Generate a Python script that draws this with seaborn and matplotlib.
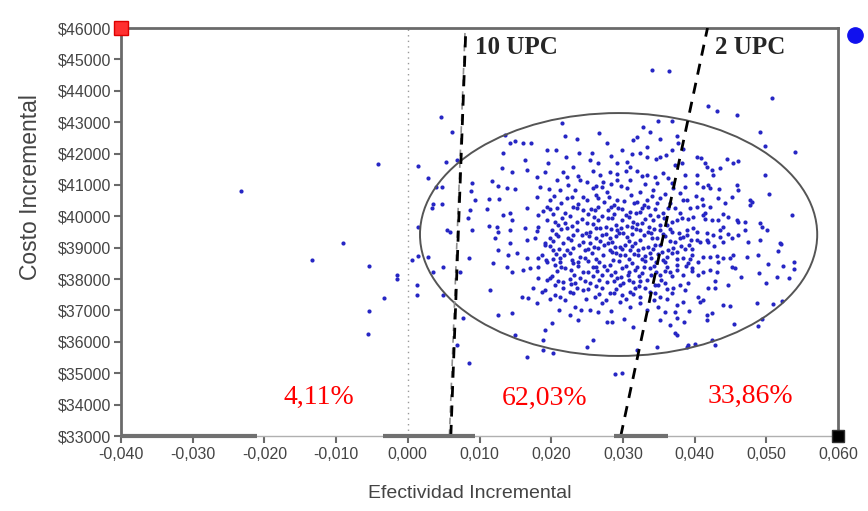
import numpy as np
import pandas as pd
import matplotlib
matplotlib.use("Agg")
import matplotlib.pyplot as plt
from matplotlib.patches import Ellipse
from matplotlib.ticker import FuncFormatter
import seaborn as sns

# ---------------- data ----------------
# simulated points, Efectividad incremental (x) and Costo incremental (y)
left_pts = [
    (-0.0233, 40810), (-0.0134, 38610), (-0.0090, 39160), (-0.0041, 41670),
    (-0.0054, 38420), (-0.0033, 37400), (-0.0054, 36990), (-0.0055, 36250),
    (-0.0015, 38130), (-0.0015, 38000), (0.0006, 38610), (0.0014, 38740),
    (0.0013, 37810), (0.0013, 37500), (0.0035, 38230), (0.0049, 38390),
    (0.0049, 37500), (0.0077, 36760), (0.0069, 35900), (0.0085, 35330),
    (0.0046, 43165), (0.0062, 42690), (0.0014, 41605), (0.0053, 41730),
    (0.0069, 41800), (0.0028, 41220), (0.0039, 40940), (0.0048, 40940),
    (0.0035, 40400), (0.0048, 40400), (0.0034, 40270), (0.0014, 39660),
    (0.0055, 39570), (0.0059, 39500), (0.0028, 38710), (0.0073, 38230),
    (0.0085, 38670), (0.0090, 39570), (0.0084, 39950), (0.0087, 40200),
    (0.0090, 41060), (0.0088, 40810), (0.0094, 40520),
]
right_pts = [
    (0.0341, 44660), (0.0364, 44630), (0.0419, 43520), (0.0431, 43360),
    (0.0459, 43230), (0.0508, 43770), (0.0491, 42690), (0.0498, 42240),
    (0.0540, 42050), (0.0498, 41320), (0.0504, 40710), (0.0536, 40040),
    (0.0521, 39120), (0.0517, 38900), (0.0538, 38550), (0.0539, 38320),
    (0.0523, 38420), (0.0532, 38040), (0.0515, 38070), (0.0502, 38480),
    (0.0490, 38200), (0.0500, 37880), (0.0487, 37240), (0.0509, 37210),
    (0.0522, 37300), (0.0489, 36510), (0.0455, 36570), (0.0489, 38770),
    (0.0473, 38710), (0.0465, 38070), (0.0457, 38350), (0.0447, 37810),
    (0.0440, 37180), (0.0449, 37150), (0.0424, 36920), (0.0417, 36700),
    (0.0424, 36060), (0.0429, 35900), (0.0391, 35900), (0.0401, 35940),
    (0.0385, 36640), (0.0373, 36290), (0.0412, 37340), (0.0419, 37720),
    (0.0429, 37720), (0.0494, 36730), (0.0519, 39150), (0.0491, 39250),
    (0.0494, 39660), (0.0501, 39570), (0.0477, 40520), (0.0477, 40360),
    (0.0470, 39820), (0.0459, 39890), (0.0470, 39570),
    (0.0445, 41830), (0.0454, 41700), (0.0461, 41760), (0.0459, 41000),
    (0.0461, 40840), (0.0452, 40620), (0.0443, 40430), (0.0480, 40460),
    (0.0491, 39790), (0.0461, 39820), (0.0440, 40080),
]
top_pts = [
    (0.0215, 42970), (0.0267, 42650), (0.0328, 42850), (0.0338, 42690),
    (0.0349, 43040), (0.0369, 43040), (0.0236, 42460), (0.0219, 42560),
    (0.0278, 42340), (0.0314, 42430), (0.0320, 42530), (0.0334, 42210),
    (0.0352, 42460), (0.0136, 42590), (0.0143, 42340), (0.0150, 42400),
    (0.0161, 42340), (0.0172, 42340), (0.0194, 42110), (0.0133, 42010),
    (0.0164, 41800), (0.0166, 41480), (0.0132, 41540), (0.0145, 41410),
    (0.0118, 41130), (0.0126, 40970), (0.0138, 40900), (0.0150, 40870),
    (0.0113, 40550), (0.0127, 40550), (0.0111, 40230), (0.0133, 40040),
    (0.0143, 40110), (0.0166, 40270), (0.0180, 40620), (0.0182, 40040),
    (0.0194, 40300), (0.0184, 40940), (0.0180, 41250), (0.0191, 41410),
    (0.0404, 41890), (0.0409, 41860), (0.0415, 41700), (0.0424, 41480),
    (0.0436, 41540), (0.0426, 41320), (0.0419, 41000), (0.0422, 40900),
    (0.0412, 40940), (0.0384, 42150), (0.0383, 41700), (0.0376, 42560),
    (0.0377, 42340), (0.0404, 41320), (0.0387, 40940), (0.0404, 40300),
    (0.0412, 40360), (0.0390, 40520), (0.0422, 40300), (0.0412, 40040),
    (0.0207, 42110), (0.0239, 42020), (0.0257, 42020), (0.0299, 42110),
    (0.0313, 41990), (0.0324, 42020), (0.0334, 41890), (0.0369, 42110),
    (0.0346, 41830), (0.0360, 41960), (0.0373, 41640), (0.0196, 41700),
    (0.0230, 41570), (0.0254, 41800), (0.0265, 41700), (0.0292, 41700),
    (0.0306, 41730), (0.0310, 41570), (0.0304, 41450), (0.0320, 41450),
    (0.0258, 41450), (0.0282, 41410), (0.0292, 41350), (0.0217, 41410),
    (0.0222, 41250), (0.0208, 41160), (0.0240, 41160), (0.0250, 41100),
    (0.0272, 41100), (0.0292, 41160), (0.0310, 41160), (0.0334, 41320),
    (0.0345, 41250), (0.0356, 41380), (0.0363, 41220), (0.0348, 41060),
    (0.0369, 41060), (0.0370, 40900), (0.0197, 40880), (0.0212, 40840),
    (0.0233, 40840), (0.0258, 40900), (0.0271, 40940), (0.0278, 40780),
    (0.0306, 40900), (0.0324, 40780), (0.0342, 40840), (0.0198, 40520),
    (0.0222, 40590), (0.0229, 40620), (0.0250, 40520), (0.0265, 40590),
    (0.0292, 40520), (0.0302, 40480), (0.0320, 40460), (0.0334, 40520),
    (0.0352, 40590), (0.0366, 40430), (0.0189, 40180), (0.0208, 40270),
    (0.0219, 40110), (0.0230, 40300), (0.0244, 40200), (0.0261, 40200),
    (0.0265, 40300), (0.0279, 40200), (0.0293, 40270), (0.0310, 40140),
    (0.0324, 40140), (0.0335, 40300), (0.0338, 40040), (0.0356, 40110),
    (0.0363, 40270), (0.0380, 40750), (0.0384, 40520), (0.0411, 40560),
    (0.0433, 40590), (0.0417, 41570), (0.0404, 41060), (0.0380, 40110),
    (0.0394, 40270), (0.0415, 40110),
]
mid_pts = [
    (0.0194, 39890), (0.0205, 39820), (0.0219, 39790), (0.0236, 39820),
    (0.0250, 39790), (0.0265, 39890), (0.0285, 39950), (0.0299, 39890),
    (0.0314, 39820), (0.0327, 39790), (0.0342, 39890), (0.0352, 39730),
    (0.0369, 39820), (0.0145, 39890), (0.0182, 39660), (0.0125, 39660),
    (0.0113, 39700), (0.0126, 39500), (0.0143, 39570), (0.0164, 39630),
    (0.0180, 39540), (0.0122, 39310), (0.0143, 39150), (0.0166, 39250),
    (0.0178, 39310), (0.0191, 39150), (0.0126, 38930), (0.0140, 38770),
    (0.0152, 38830), (0.0166, 38670), (0.0182, 38670), (0.0187, 38770),
    (0.0201, 39570), (0.0222, 39630), (0.0243, 39410), (0.0268, 39630),
    (0.0271, 39410), (0.0282, 39310), (0.0292, 39570), (0.0300, 39470),
    (0.0313, 39660), (0.0324, 39570), (0.0335, 39500), (0.0341, 39310),
    (0.0352, 39570), (0.0369, 39500), (0.0373, 39180), (0.0191, 39090),
    (0.0203, 38930), (0.0217, 39150), (0.0231, 38990), (0.0247, 38930),
    (0.0254, 39150), (0.0265, 38990), (0.0279, 39150), (0.0285, 38870),
    (0.0289, 39020), (0.0296, 38770), (0.0303, 39090), (0.0310, 38930),
    (0.0317, 39150), (0.0321, 38770), (0.0328, 38990), (0.0338, 38830),
    (0.0345, 39090), (0.0355, 38870), (0.0362, 38710), (0.0370, 38990),
    (0.0240, 38710), (0.0212, 38670), (0.0193, 38600), (0.0226, 38830),
    (0.0198, 39310), (0.0231, 39410), (0.0254, 39500), (0.0380, 39310),
    (0.0390, 39410), (0.0404, 39500), (0.0408, 39180), (0.0417, 39250),
    (0.0426, 39410), (0.0436, 39570), (0.0440, 39180), (0.0452, 39310),
    (0.0461, 39410), (0.0475, 39180), (0.0376, 38870), (0.0384, 38670),
    (0.0397, 38770), (0.0422, 38710), (0.0440, 38670), (0.0454, 38770),
    (0.0436, 39340), (0.0417, 39470), (0.0404, 39250), (0.0390, 39570),
    (0.0376, 39890), (0.0398, 39980), (0.0424, 39890), (0.0440, 39660),
    (0.0447, 39980),
]
low_pts = [
    (0.0194, 38550), (0.0205, 38450), (0.0219, 38360), (0.0230, 38520),
    (0.0244, 38230), (0.0258, 38390), (0.0271, 38130), (0.0282, 38450),
    (0.0289, 38230), (0.0299, 38360), (0.0307, 38130), (0.0320, 38390),
    (0.0327, 38200), (0.0338, 38360), (0.0352, 38130), (0.0366, 38230),
    (0.0376, 38450), (0.0198, 38040), (0.0217, 37910), (0.0233, 37880),
    (0.0254, 37880), (0.0278, 37910), (0.0300, 37880), (0.0314, 37910),
    (0.0334, 37970), (0.0345, 37810), (0.0359, 37880), (0.0240, 38040),
    (0.0292, 38040), (0.0191, 37650), (0.0205, 37500), (0.0226, 37590),
    (0.0244, 37650), (0.0261, 37430), (0.0282, 37560), (0.0299, 37500),
    (0.0310, 37590), (0.0324, 37430), (0.0338, 37590), (0.0352, 37430),
    (0.0369, 37560), (0.0376, 37180), (0.0250, 35840), (0.0289, 34990),
    (0.0299, 35020), (0.0348, 35840), (0.0320, 35740), (0.0203, 35650),
    (0.0189, 35740), (0.0258, 36060), (0.0226, 36860), (0.0201, 36600),
    (0.0212, 37430), (0.0254, 37020), (0.0265, 36950), (0.0278, 36640),
    (0.0285, 36620), (0.0314, 36480), (0.0310, 37110), (0.0296, 37270),
    (0.0324, 37240), (0.0349, 37110), (0.0359, 36950), (0.0366, 36540),
    (0.0376, 36220), (0.0233, 37110), (0.0271, 37240), (0.0390, 35840),
    (0.0166, 35520), (0.0191, 36380), (0.0189, 36060), (0.0150, 36220),
    (0.0145, 36920), (0.0126, 36860), (0.0115, 37650), (0.0119, 38520),
    (0.0138, 38390), (0.0161, 38290), (0.0171, 38360), (0.0182, 38390),
    (0.0145, 38230), (0.0182, 38040), (0.0194, 37970), (0.0175, 37720),
    (0.0187, 37590), (0.0159, 37430), (0.0168, 37400), (0.0180, 37240),
    (0.0380, 37810), (0.0387, 37650), (0.0405, 37430), (0.0408, 37270),
    (0.0384, 37270), (0.0373, 36950), (0.0376, 36760), (0.0417, 36860),
    (0.0376, 38290), (0.0384, 38130), (0.0391, 37880), (0.0405, 38130),
    (0.0412, 38230), (0.0422, 38290), (0.0431, 38230), (0.0370, 37720),
    (0.0405, 38550), (0.0433, 38550),
]
core_pts = [
    (0.0214, 40420), (0.0238, 40380), (0.0273, 40440), (0.0287, 40360),
    (0.0316, 40410), (0.0329, 40350), (0.0347, 40430),
    (0.0203, 40060), (0.0226, 40020), (0.0252, 40080), (0.0271, 40010),
    (0.0288, 40070), (0.0304, 40030), (0.0318, 40090), (0.0349, 40000),
    (0.0210, 39710), (0.0229, 39680), (0.0258, 39740), (0.0276, 39660),
    (0.0291, 39720), (0.0306, 39690), (0.0320, 39750), (0.0337, 39670),
    (0.0361, 39710),
    (0.0209, 39360), (0.0224, 39320), (0.0253, 39380), (0.0262, 39300),
    (0.0291, 39360), (0.0306, 39330), (0.0329, 39390), (0.0347, 39310),
    (0.0359, 39370), (0.0384, 39340),
    (0.0198, 39050), (0.0239, 39080), (0.0259, 39020), (0.0274, 39070),
    (0.0296, 39030), (0.0313, 39060), (0.0335, 39010), (0.0352, 39070),
    (0.0381, 39040), (0.0392, 39090),
    (0.0207, 38800), (0.0218, 38760), (0.0257, 38820), (0.0272, 38780),
    (0.0291, 38830), (0.0303, 38770), (0.0316, 38810), (0.0331, 38750),
    (0.0349, 38800), (0.0368, 38840),
    (0.0212, 38560), (0.0237, 38530), (0.0251, 38590), (0.0267, 38540),
    (0.0294, 38570), (0.0312, 38520), (0.0331, 38580), (0.0346, 38540),
    (0.0359, 38560), (0.0391, 38520),
    (0.0208, 38250), (0.0227, 38280), (0.0252, 38220), (0.0264, 38260),
    (0.0278, 38300), (0.0309, 38240), (0.0317, 38290), (0.0346, 38230),
    (0.0359, 38270), (0.0397, 38250),
    (0.0209, 37950), (0.0226, 37990), (0.0247, 37930), (0.0266, 37970),
    (0.0287, 37940), (0.0308, 37980), (0.0324, 37930), (0.0353, 37960),
    (0.0216, 37700), (0.0236, 37730), (0.0252, 37680), (0.0271, 37720),
    (0.0291, 37690), (0.0317, 37730), (0.0331, 37700), (0.0362, 37680),
    (0.0199, 37350), (0.0219, 37320), (0.0248, 37370), (0.0276, 37330),
    (0.0305, 37360), (0.0343, 37320), (0.0361, 37350),
    (0.0223, 41010), (0.0262, 40980), (0.0284, 41030), (0.0297, 40970),
    (0.0331, 41020),
    (0.0412, 38700), (0.0431, 38730), (0.0449, 38680),
    (0.0391, 39900), (0.0414, 39930), (0.0433, 39880),
]
dense_pts = [
    (0.0204, 40660), (0.0244, 40630), (0.0262, 40690), (0.0281, 40620),
    (0.0311, 40670), (0.0341, 40640), (0.0359, 40700),
    (0.0199, 40240), (0.0236, 40270), (0.0255, 40230), (0.0284, 40290),
    (0.0299, 40220), (0.0327, 40260), (0.0345, 40240), (0.0372, 40280),
    (0.0215, 39960), (0.0243, 39930), (0.0259, 39980), (0.0279, 39940),
    (0.0309, 39970), (0.0331, 39920), (0.0357, 39960), (0.0383, 39940),
    (0.0214, 39600), (0.0236, 39570), (0.0262, 39620), (0.0284, 39590),
    (0.0297, 39630), (0.0318, 39580), (0.0343, 39610), (0.0365, 39590),
    (0.0398, 39620),
    (0.0207, 39450), (0.0249, 39470), (0.0277, 39440), (0.0295, 39480),
    (0.0312, 39430), (0.0339, 39460), (0.0356, 39440), (0.0378, 39470),
    (0.0203, 39200), (0.0228, 39230), (0.0245, 39190), (0.0268, 39220),
    (0.0285, 39180), (0.0309, 39210), (0.0324, 39240), (0.0366, 39200),
    (0.0395, 39230), (0.0419, 39190),
    (0.0211, 38950), (0.0222, 38920), (0.0252, 38960), (0.0282, 38930),
    (0.0299, 38970), (0.0321, 38940), (0.0342, 38960), (0.0363, 38920),
    (0.0387, 38950),
    (0.0202, 38650), (0.0229, 38620), (0.0247, 38660), (0.0263, 38640),
    (0.0286, 38610), (0.0308, 38650), (0.0326, 38630), (0.0339, 38670),
    (0.0356, 38620), (0.0376, 38650), (0.0394, 38630),
    (0.0213, 38400), (0.0238, 38420), (0.0262, 38380), (0.0274, 38410),
    (0.0304, 38430), (0.0329, 38390), (0.0343, 38420), (0.0362, 38380),
    (0.0388, 38410),
    (0.0201, 38100), (0.0232, 38130), (0.0258, 38090), (0.0283, 38120),
    (0.0297, 38080), (0.0322, 38110), (0.0339, 38130), (0.0368, 38090),
    (0.0205, 37800), (0.0227, 37830), (0.0262, 37790), (0.0296, 37820),
    (0.0322, 37780), (0.0349, 37810),
    (0.0231, 37550), (0.0267, 37530), (0.0287, 37570), (0.0314, 37540),
    (0.0345, 37560),
    (0.0211, 37000), (0.0241, 37030), (0.0283, 36980), (0.0334, 37010),
    (0.0392, 36990),
    (0.0238, 36700), (0.0302, 36730), (0.0352, 36690),
    (0.0237, 41300), (0.0268, 41330), (0.0326, 41280), (0.0387, 41310),
    (0.0221, 41900), (0.0283, 41930), (0.0352, 41880),
    (0.0396, 38950), (0.0427, 39050), (0.0447, 39450), (0.0402, 40650),
    (0.0434, 40880), (0.0452, 38400), (0.0396, 38350), (0.0428, 37950),
]

x_ticks = [-0.04, -0.03, -0.02, -0.01, 0.0, 0.01, 0.02, 0.03, 0.04, 0.05, 0.06]
y_ticks = [33000, 34000, 35000, 36000, 37000, 38000, 39000, 40000,
           41000, 42000, 43000, 44000, 45000, 46000]

# threshold lines (willingness-to-pay), endpoints at bottom/top of axes
upc10_x = [0.0060, 0.0081]
upc2_x = [0.0297, 0.0418]
line_y = [33000, 46000]

# confidence ellipse
ell_cx, ell_cy = 0.0294, 39420
ell_w, ell_h = 0.0554, 7740

# region percentages
pct_labels = ["4,11%", "62,03%", "33,86%"]
pct_x = [-0.0124, 0.0191, 0.0478]
pct_y = [34230, 34200, 34250]

# corner markers
red_pt = (-0.040, 46000)
black_pt = (0.060, 33000)
blue_pt = (0.0624, 45780)

# bottom axis thick segments (as in the source image)
seg_start = [-0.040, -0.0035, 0.0288]
seg_end = [-0.021, 0.0094, 0.0363]

# ---------------- figure ----------------
all_pts = left_pts + right_pts + top_pts + mid_pts + low_pts + core_pts + dense_pts
df = pd.DataFrame(all_pts, columns=["eff", "cost"])

sns.set_style("white")
plt.rcParams['font.family'] = ['Liberation Sans', 'DejaVu Sans']

fig = plt.figure(figsize=(8.68, 5.11), dpi=100)
ax = fig.add_axes([121/868, 1 - 436/511, 717/868, 408/511])

ax.set_xlim(-0.040, 0.060)
ax.set_ylim(33000, 46000)

# zero line
ax.axvline(0.0, color="#999999", lw=1.0, ls=(0, (1, 3)), zorder=1)

sns.scatterplot(data=df, x="eff", y="cost", ax=ax, color="#2626c4",
                s=9, linewidth=0, zorder=3)

ell = Ellipse((ell_cx, ell_cy), ell_w, ell_h, fill=False,
              edgecolor="#555555", lw=1.4, zorder=4)
ax.add_patch(ell)

# threshold lines
ax.plot([upc10_x[0] - 0.0002, upc10_x[1] - 0.0001], line_y, color="#909090",
        lw=1.2, ls=(0, (4, 3)), zorder=4)
ax.plot(upc10_x, line_y, color="black", lw=2.0, ls=(0, (4, 3)), zorder=5)
ax.plot(upc2_x, line_y, color="black", lw=2.0, ls=(0, (4, 3)), zorder=5)

ax.text(upc10_x[1] + 0.0013, 45380, "10 UPC", fontsize=18, fontweight="bold",
        family=["Liberation Serif", "DejaVu Serif"], ha="left", va="center",
        zorder=6)
ax.text(upc2_x[1] + 0.0011, 45380, "2 UPC", fontsize=18, fontweight="bold",
        family=["Liberation Serif", "DejaVu Serif"], ha="left", va="center",
        zorder=6)

for lab, px, py in zip(pct_labels, pct_x, pct_y):
    ax.text(px, py, lab, color="#ff0000", fontsize=20,
            family=["Liberation Serif", "DejaVu Serif"], ha="center",
            va="center", zorder=6)

# corner markers
ax.plot([red_pt[0]], [red_pt[1]], marker="s", ms=10, mfc="#ff3030",
        mec="#dd0000", clip_on=False, zorder=7)
ax.plot([black_pt[0]], [black_pt[1]], marker="s", ms=9, mfc="black",
        mec="#333333", clip_on=False, zorder=7)
ax.plot([blue_pt[0]], [blue_pt[1]], marker="o", ms=11, mfc="#1010ee",
        mec="#1010ee", clip_on=False, zorder=7)

# spines
for side in ["left", "top", "right"]:
    ax.spines[side].set_color("#6a6a6a")
    ax.spines[side].set_linewidth(2.0)
ax.spines["bottom"].set_color("#b0b0b0")
ax.spines["bottom"].set_linewidth(1.0)
for s0, s1 in zip(seg_start, seg_end):
    ax.plot([s0, s1], [33000, 33000], color="#707070", lw=3, clip_on=False,
            solid_capstyle="butt", zorder=6)

# ticks
ax.set_xticks(x_ticks)
ax.set_yticks(y_ticks)
ax.xaxis.set_major_formatter(FuncFormatter(lambda v, p: f"{v:.3f}".replace(".", ",")))
ax.yaxis.set_major_formatter(FuncFormatter(lambda v, p: f"${int(round(v))}"))
ax.tick_params(axis="both", which="major", labelsize=11.5, labelcolor="#444444",
               color="#6a6a6a", direction="out", length=5, width=1.5, pad=2)
ax.tick_params(axis="x", bottom=True, pad=3)
ax.tick_params(axis="y", left=True)

ax.set_xlabel("Efectividad Incremental", fontsize=14, color="#444444")
ax.set_ylabel("Costo Incremental", fontsize=16.5, color="#444444")
ax.xaxis.set_label_coords((470 - 121) / 717, -(485 - 436) / 408)
ax.yaxis.set_label_coords(-(121 - 42) / 717, (436 - 187) / 408)

fig.savefig("out.png", dpi=100, facecolor="white")
